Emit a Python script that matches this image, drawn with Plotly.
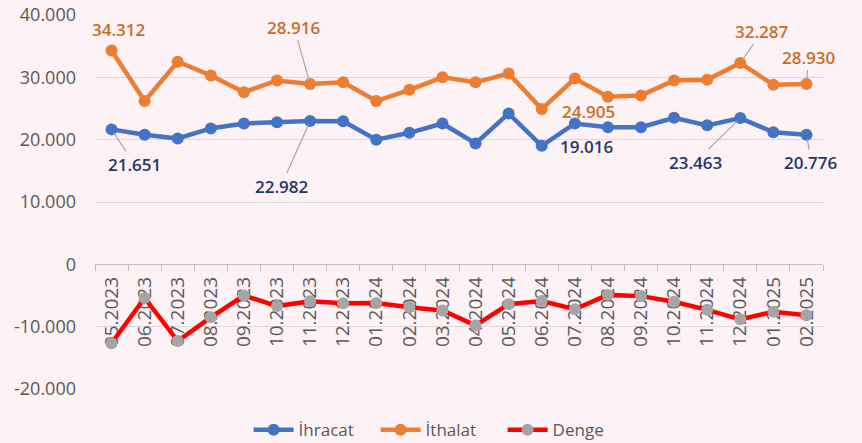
import plotly.graph_objects as go

months = ["05.2023", "06.2023", "07.2023", "08.2023", "09.2023", "10.2023",
          "11.2023", "12.2023", "01.2024", "02.2024", "03.2024", "04.2024",
          "05.2024", "06.2024", "07.2024", "08.2024", "09.2024", "10.2024",
          "11.2024", "12.2024", "01.2025", "02.2025"]

ihracat = [21651, 20800, 20200, 21800, 22600, 22800, 22982, 22950, 20000, 21100,
           22600, 19400, 24200, 19016, 22600, 22000, 22000, 23500, 22300, 23463,
           21200, 20776]

ithalat = [34312, 26200, 32500, 30300, 27600, 29500, 28916, 29200, 26200, 28000,
           30000, 29200, 30600, 24905, 29800, 26900, 27100, 29500, 29600, 32287,
           28800, 28930]

denge = [-12661, -5400, -12300, -8500, -5000, -6700, -5934, -6250, -6200, -6900,
         -7400, -9800, -6400, -5889, -7200, -4900, -5100, -6000, -7300, -8824,
         -7600, -8154]

ytick_vals = [-20000, -10000, 0, 10000, 20000, 30000, 40000]
ytick_text = ["-20.000", "-10.000", "0", "10.000", "20.000", "30.000", "40.000"]

BG = "#fdf2f5"
GRID = "#d9d9d9"
TXT = "#595959"
FONT = "Open Sans"

fig = go.Figure()
fig.add_trace(go.Scatter(x=months, y=ihracat, name="İhracat", mode="lines+markers",
                         line=dict(color="#4472c4", width=4.5),
                         marker=dict(color="#4472c4", size=12)))
fig.add_trace(go.Scatter(x=months, y=ithalat, name="İthalat", mode="lines+markers",
                         line=dict(color="#ed7d31", width=4.5),
                         marker=dict(color="#ed7d31", size=12)))
fig.add_trace(go.Scatter(x=months, y=denge, name="Denge", mode="lines+markers",
                         line=dict(color="#ff0000", width=4.5),
                         marker=dict(color="#a5a5a5", size=12)))

def fmt(v):
    return f"{v:,}".replace(",", ".")

# (series, index, dx, dy, arrow)
label_specs = [
    ("o", 0, 7, -21, False),
    ("b", 0, 23, 35, True),
    ("b", 6, -29, 65, True),
    ("o", 6, -16, -57, True),
    ("o", 13, 47, 2, False),
    ("b", 13, 45, 1, False),
    ("b", 19, -45, 44, True),
    ("o", 19, 22, -32, True),
    ("o", 21, 2, -27, True),
    ("b", 21, 5, 28, True),
]

for s, i, dx, dy, arrow in label_specs:
    vals = ithalat if s == "o" else ihracat
    col = "#c5702a" if s == "o" else "#1f3864"
    common = dict(x=i, y=vals[i], xref="x", yref="y", text=fmt(vals[i]),
                  font=dict(family=FONT, size=17, color=col, weight=600))
    if arrow:
        fig.add_annotation(**common, showarrow=True, arrowhead=0, arrowwidth=1.2,
                           arrowcolor="#a6a6a6", ax=dx, ay=dy, standoff=4)
    else:
        fig.add_annotation(**common, showarrow=False, xshift=dx, yshift=-dy)

fig.update_layout(
    width=862, height=443,
    margin=dict(l=95, r=39, t=15, b=54, autoexpand=False),
    paper_bgcolor=BG, plot_bgcolor=BG,
    font=dict(family=FONT, color=TXT),
    showlegend=True,
    legend=dict(orientation="h", x=0.211, xanchor="left", y=-0.11, yanchor="middle",
                font=dict(family=FONT, size=17, color=TXT), bgcolor="rgba(0,0,0,0)",
                itemwidth=40, entrywidth=72, entrywidthmode="pixels"),
    xaxis=dict(type="category", anchor="free", position=1/3, showline=True,
               linecolor="#bfbfbf", linewidth=1, ticks="outside", ticklen=6,
               tickcolor="#bfbfbf", tickson="boundaries", tickangle=-90,
               tickfont=dict(family=FONT, size=19, color=TXT), showgrid=False,
               layer="below traces", range=[-0.5, len(months) - 0.5],
               ticklabelstandoff=4, automargin=False),
    yaxis=dict(range=[-20000, 40000], tickvals=ytick_vals, ticktext=ytick_text,
               showgrid=True, gridcolor=GRID, gridwidth=1, zeroline=False,
               showline=False, tickfont=dict(family=FONT, size=18, color=TXT),
               ticks="", ticklabelstandoff=18, automargin=False),
)

fig.write_html("out.html", config={"displayModeBar": False},
               post_script="document.body.style.margin='0';")
